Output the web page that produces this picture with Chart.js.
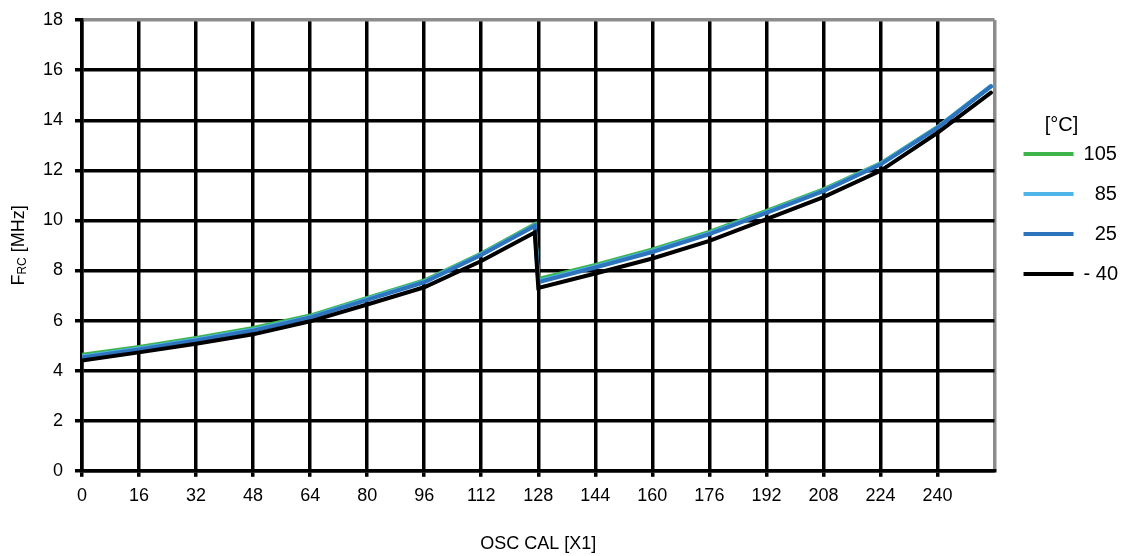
<!DOCTYPE html>
<html>
<head>
<meta charset="utf-8">
<script src="https://cdn.jsdelivr.net/npm/chart.js@4"></script>
<style>
  body { margin: 0; background: #fff; }
  .grafica { width: 1123px; height: 556px; }
</style>
</head>
<body>
<div class="grafica"><canvas id="grafica-osccal"></canvas></div>
<script>
// OSCCAL value and measured frequency per temperature
const osccal = [0, 16, 32, 48, 64, 80, 96, 112, 127, 128, 144, 160, 176, 192, 208, 224, 240, 255];
const frec105 = [4.63, 4.95, 5.3, 5.7, 6.2, 6.9, 7.6, 8.68, 9.85, 7.66, 8.22, 8.84, 9.54, 10.38, 11.24, 12.28, 13.73, 15.35];
const frec85 = [4.56, 4.89, 5.24, 5.64, 6.15, 6.86, 7.56, 8.65, 9.8, 7.58, 8.16, 8.78, 9.49, 10.33, 11.2, 12.26, 13.72, 15.37];
const frec25 = [4.52, 4.85, 5.2, 5.6, 6.12, 6.83, 7.53, 8.62, 9.78, 7.53, 8.12, 8.74, 9.45, 10.3, 11.17, 12.23, 13.7, 15.35];
const frecMenos40 = [4.4, 4.73, 5.07, 5.45, 5.97, 6.64, 7.33, 8.38, 9.52, 7.3, 7.88, 8.48, 9.18, 10.05, 10.93, 11.98, 13.5, 15.1];
const etiquetas = ['105', '  85', '  25', '- 40'];
const tituloLeyenda = '[°C]';
const colores = ['#3db54a', '#4fb4e8', '#2e74bc', '#000000'];

const fuente = '"Liberation Sans", Arial, sans-serif';
const xMax = 256;
const yMax = 18;

function serie(valores) {
  return valores.map((v, i) => ({ x: osccal[i], y: v }));
}

// y axis title with subscript
const tituloY = {
  id: 'tituloY',
  afterDraw(chart) {
    const ctx = chart.ctx;
    const cy = (chart.chartArea.top + chart.chartArea.bottom) / 2;
    ctx.save();
    ctx.translate(19, cy);
    ctx.rotate(-Math.PI / 2);
    ctx.fillStyle = '#000';
    ctx.textBaseline = 'middle';
    ctx.textAlign = 'left';
    ctx.font = '18px ' + fuente;
    const wF = ctx.measureText('F').width;
    const wResto = ctx.measureText(' [MHz]').width;
    ctx.font = '12px ' + fuente;
    const wSub = ctx.measureText('RC').width;
    let x = -(wF + wSub + wResto) / 2;
    ctx.font = '18px ' + fuente;
    ctx.fillText('F', x, 0);
    x += wF;
    ctx.font = '12px ' + fuente;
    ctx.fillText('RC', x, 4);
    x += wSub;
    ctx.font = '18px ' + fuente;
    ctx.fillText(' [MHz]', x, 0);
    ctx.restore();
  }
};

// legend: a bit wider box, items nudged right, title drawn by hand
const ajusteLeyenda = {
  id: 'ajusteLeyenda',
  beforeInit(chart) {
    const fitOriginal = chart.legend.fit;
    chart.legend.fit = function () {
      fitOriginal.call(this);
      this.width += 4;
    };
  },
  afterLayout(chart) {
    chart.legend.left += 9;
  },
  afterDraw(chart) {
    const ctx = chart.ctx;
    const ley = chart.legend;
    ctx.save();
    ctx.fillStyle = '#000';
    ctx.font = '20px ' + fuente;
    ctx.textAlign = 'center';
    ctx.textBaseline = 'middle';
    ctx.fillText(tituloLeyenda, ley.left + 58, ley.top + 122);
    ctx.restore();
  }
};

const series = [frec105, frec85, frec25, frecMenos40];

new Chart(document.getElementById('grafica-osccal'), {
  type: 'line',
  data: {
    datasets: series.map((s, i) => ({
      label: etiquetas[i],
      data: serie(s),
      borderColor: colores[i],
      backgroundColor: colores[i],
      borderWidth: 4,
      borderCapStyle: 'round',
      pointRadius: 0,
      tension: 0,
      order: 4 - i
    }))
  },
  plugins: [tituloY, ajusteLeyenda],
  options: {
    responsive: true,
    maintainAspectRatio: false,
    animation: false,
    layout: {
      padding: { left: 31, top: 3, right: 0, bottom: 0 }
    },
    plugins: {
      legend: {
        position: 'right',
        align: 'start',
        title: {
          display: true,
          text: ' ',
          font: { family: fuente, size: 20 },
          padding: { top: 91, bottom: 6 }
        },
        labels: {
          color: '#000',
          font: { family: fuente, size: 20 },
          usePointStyle: true,
          pointStyle: 'line',
          pointStyleWidth: 50,
          padding: 20,
          sort: (a, b) => a.datasetIndex - b.datasetIndex
        }
      },
      tooltip: { enabled: false }
    },
    scales: {
      x: {
        type: 'linear',
        min: 0,
        max: xMax,
        ticks: {
          stepSize: 16,
          autoSkip: false,
          maxRotation: 0,
          color: '#000',
          font: { family: fuente, size: 18 },
          padding: 8,
          callback: v => (v === xMax ? '' : v)
        },
        grid: {
          color: c => (c.tick && c.tick.value === xMax ? '#8c8c8c' : '#000'),
          tickColor: c => (c.tick && c.tick.value === xMax ? 'rgba(0,0,0,0)' : '#000'),
          lineWidth: 3.5,
          tickLength: 6
        },
        border: { color: '#000', width: 3.5 },
        title: {
          display: true,
          text: 'OSC CAL [X1]',
          color: '#000',
          font: { family: fuente, size: 18 },
          padding: { top: 19, bottom: 1 }
        }
      },
      y: {
        min: 0,
        max: yMax,
        ticks: {
          stepSize: 2,
          color: '#000',
          font: { family: fuente, size: 18, lineHeight: 0.9 },
          padding: 12
        },
        grid: {
          color: c => (c.tick && c.tick.value === yMax ? '#8c8c8c' : '#000'),
          tickColor: '#000',
          lineWidth: 3.5,
          tickLength: 7
        },
        border: { color: '#000', width: 3.5 }
      }
    }
  }
});
</script>
</body>
</html>
